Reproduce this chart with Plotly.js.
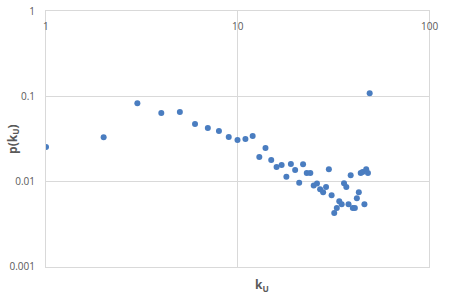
<!DOCTYPE html>
<html>
<head>
<meta charset="utf-8">
<script src="https://cdn.plot.ly/plotly-3.0.1.min.js"></script>
<style>html,body{margin:0;padding:0;background:#fff;}#chart{width:449px;height:298px;}</style>
</head>
<body>
<div id="chart"></div>
<script>
const kU = [1,2,3,4,5,6,7,8,9,10,11,12,13,14,15,16,17,18,19,20,21,22,23,24,25,26,27,28,29,30,31,32,33,34,35,36,37,38,39,40,41,42,43,44,45,46,47,48,49];
const pkU = [0.0254,0.0332,0.083,0.0636,0.0654,0.0473,0.0425,0.0392,0.0333,0.0308,0.0316,0.0342,0.0194,0.0248,0.0179,0.0149,0.0157,0.0114,0.0161,0.0137,0.0097,0.0160,0.0126,0.0126,0.0090,0.0095,0.00817,0.00753,0.00863,0.0140,0.00695,0.00428,0.0049,0.00591,0.00545,0.0096,0.00863,0.00545,0.0119,0.0049,0.0049,0.00641,0.00753,0.0126,0.0130,0.00545,0.0140,0.0126,0.109];
const xTicks = [1,10,100];
const yTicks = [0.001,0.01,0.1,1];
const xTickText = ['1','10','100'];
const yTickText = ['0.001','0.01','0.1','1'];

const grid = '#d9d9d9';
const txt = '#595959';
const ann = [
  {text: '<b>k<sub>U</sub></b>', xref: 'paper', yref: 'paper', x: 0.565, y: -0.07, yanchor: 'middle', showarrow: false, font: {size: 12, color: txt}},
  {text: '<b>p(k<sub>U</sub>)</b>', xref: 'paper', yref: 'paper', x: -0.115, y: 0.5, textangle: -90, showarrow: false, font: {size: 12, color: txt}}
];
xTicks.forEach((v, i) => ann.push({
  text: xTickText[i], xref: 'x', yref: 'paper', x: Math.log10(v), y: 1,
  yanchor: 'middle', yshift: -15, showarrow: false,
  font: {size: 10, color: txt}
}));
Plotly.newPlot('chart', [{
  x: kU, y: pkU, type: 'scatter', mode: 'markers',
  marker: {color: '#4a7dc0', size: 6}
}], {
  width: 449, height: 298,
  margin: {l: 46, r: 19.5, t: 11, b: 31, pad: 0},
  paper_bgcolor: '#fff', plot_bgcolor: '#fff',
  showlegend: false,
  font: {family: 'Open Sans, Liberation Sans, sans-serif', size: 10, color: txt},
  xaxis: {
    type: 'log', range: [0, 2],
    tickvals: xTicks, showticklabels: false, ticks: '',
    showgrid: true, gridcolor: grid, gridwidth: 1,
    showline: true, mirror: true, linecolor: grid, zeroline: false
  },
  yaxis: {
    type: 'log', range: [-3.0005, 0.0005],
    tickvals: yTicks, ticktext: yTickText,
    ticks: '', ticklabelstandoff: 8,
    showgrid: true, gridcolor: grid, gridwidth: 1,
    showline: true, mirror: true, linecolor: grid,
    zeroline: false,
    tickfont: {size: 10, color: txt}
  },
  annotations: ann
}, {staticPlot: true});
</script>
</body>
</html>
